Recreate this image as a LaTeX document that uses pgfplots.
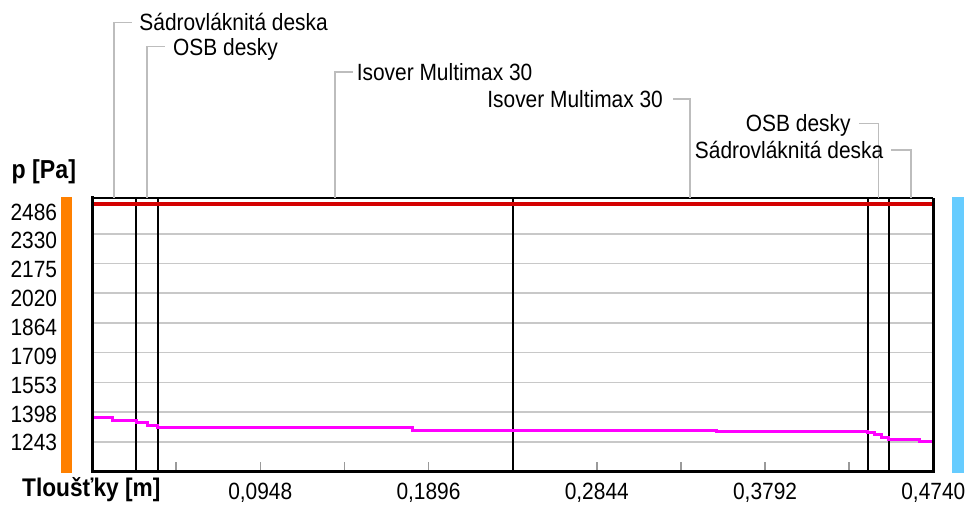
\documentclass[border=0pt]{standalone}
\usepackage{fontspec}
\setmainfont{Liberation Sans}[FakeStretch=0.89]
\usepackage{pgfplots}
\pgfplotsset{compat=1.18}

\definecolor{interior}{HTML}{FF8000}
\definecolor{exterior}{HTML}{66CCFF}
\definecolor{pressure}{HTML}{FF00FF}
\definecolor{saturation}{HTML}{D40000}
\definecolor{gridgray}{HTML}{C8C8C8}
\definecolor{leadergray}{HTML}{BDBDBD}
\definecolor{tickgray}{HTML}{9A9A9A}

\newcommand\lbl{\fontsize{23.5}{26}\selectfont}
% tick labels of the pressure axis sit slightly lower than their grid lines
\newcommand\ylab[2]{\raisebox{-#1pt}[0pt][0pt]{#2}}

\begin{document}
\begin{tikzpicture}[x=1pt,y=1pt]
\useasboundingbox (0,0) rectangle (968,508);

% interior / exterior side bars
\fill[interior] (61,34.7) rectangle (72,311.3);
\fill[exterior] (952.3,34.7) rectangle (964.3,311.3);

\node[anchor=west, inner sep=0pt, font=\fontsize{26}{28}\selectfont\bfseries] at (11.5,336.3) {p [Pa]};
\node[anchor=west, inner sep=0pt, font=\fontsize{25.5}{28}\selectfont\bfseries] at (22,18) {Tloušťky [m]};

\begin{axis}[
  at={(92pt,36.3pt)}, anchor=south west,
  scale only axis, width=841.3pt, height=274pt,
  xmin=0, xmax=0.474, ymin=1087.6, ymax=2519,
  axis line style={draw=none},
  clip=false,
  tick label style={font=\lbl},
  /pgf/number format/assume math mode=true,
  ytick={1243,1398.375,1553.75,1709.125,1864.5,2019.875,2175.25,2330.625,2486},
  yticklabels={\ylab{9.0}{1243},\ylab{9.89}{1398},\ylab{10.78}{1553},\ylab{11.67}{1709},
               \ylab{12.56}{1864},\ylab{13.45}{2020},\ylab{14.34}{2175},\ylab{15.23}{2330},\ylab{16.12}{2486}},
  yticklabel style={anchor=east, inner sep=0pt, xshift=-34.7pt},
  ytick style={draw=none},
  ymajorgrids,
  y grid style={gridgray, line width=1.5pt},
  xtick={0.0948,0.1896,0.2844,0.3792,0.474},
  xticklabels={{0,0948},{0,1896},{0,2844},{0,3792},{0,4740}},
  minor xtick={0.0474,0.1422,0.237,0.3318,0.4266},
  xtick pos=bottom,
  tick align=inside,
  major tick length=10pt, minor tick length=10pt,
  x tick style={tickgray, line width=1.5pt},
  xticklabel style={inner sep=0pt, yshift=-11.3pt},
]

% layer interfaces
\addplot[black, line width=2pt] coordinates {(0.025,1087.6) (0.025,2519)};
\addplot[black, line width=2pt] coordinates {(0.037,1087.6) (0.037,2519)};
\addplot[black, line width=2pt] coordinates {(0.237,1087.6) (0.237,2519)};
\addplot[black, line width=2pt] coordinates {(0.437,1087.6) (0.437,2519)};
\addplot[black, line width=2pt] coordinates {(0.449,1087.6) (0.449,2519)};

% saturated vapour pressure
\addplot[saturation, line width=3.2pt] coordinates {(0,2486) (0.474,2486)};

% partial vapour pressure
\addplot[pressure, line width=3pt, const plot] coordinates {
  (0,1370) (0.0118,1357) (0.0250,1344) (0.0310,1330) (0.0370,1318)
  (0.1805,1305) (0.3517,1297) (0.4370,1290) (0.4410,1280) (0.4450,1268)
  (0.4490,1257) (0.4665,1245) (0.474,1245)};

% frame
\draw[black, line width=3pt, line cap=rect] (rel axis cs:0,0) -- (rel axis cs:0,1);
\draw[black, line width=3pt, line cap=rect] (rel axis cs:0,0) -- (rel axis cs:1,0);
\draw[black, line width=2pt] (rel axis cs:0,1) -- (rel axis cs:1,1);
\draw[black, line width=2.5pt] (rel axis cs:1,0) -- (rel axis cs:1,1);

% layer names with leader lines
\draw[leadergray, line width=1.5pt] (axis cs:0.0125,2519) -- (axis cs:0.0125,3435.3) -- ++(17.5pt,0pt)
  node[anchor=base west, inner sep=0pt, xshift=7pt, yshift=-8.4pt, text=black, font=\lbl] {Sádrovláknitá deska};
\draw[leadergray, line width=1.5pt] (axis cs:0.031,2519) -- (axis cs:0.031,3307.8) -- ++(17.9pt,0pt)
  node[anchor=base west, inner sep=0pt, xshift=7.5pt, yshift=-8.4pt, text=black, font=\lbl] {OSB desky};
\draw[leadergray, line width=1.5pt] (axis cs:0.137,2519) -- (axis cs:0.137,3175.6) -- ++(17.9pt,0pt)
  node[anchor=base west, inner sep=0pt, xshift=3pt, yshift=-8.4pt, text=black, font=\lbl] {Isover Multimax 30};
\draw[leadergray, line width=1.5pt] (axis cs:0.337,2519) -- (axis cs:0.337,3034.6) -- ++(-17.5pt,0pt)
  node[anchor=base east, inner sep=0pt, xshift=-9pt, yshift=-8.4pt, text=black, font=\lbl] {Isover Multimax 30};
\draw[leadergray, line width=1.5pt] (axis cs:0.443,2519) -- (axis cs:0.443,2907.6) -- ++(-19pt,0pt)
  node[anchor=base east, inner sep=0pt, xshift=-8pt, yshift=-8.4pt, text=black, font=\lbl] {OSB desky};
\draw[leadergray, line width=1.5pt] (axis cs:0.4615,2519) -- (axis cs:0.4615,2768.2) -- ++(-20.6pt,0pt)
  node[anchor=base east, inner sep=0pt, xshift=-6.5pt, yshift=-8.4pt, text=black, font=\lbl] {Sádrovláknitá deska};

\end{axis}
\end{tikzpicture}
\end{document}
